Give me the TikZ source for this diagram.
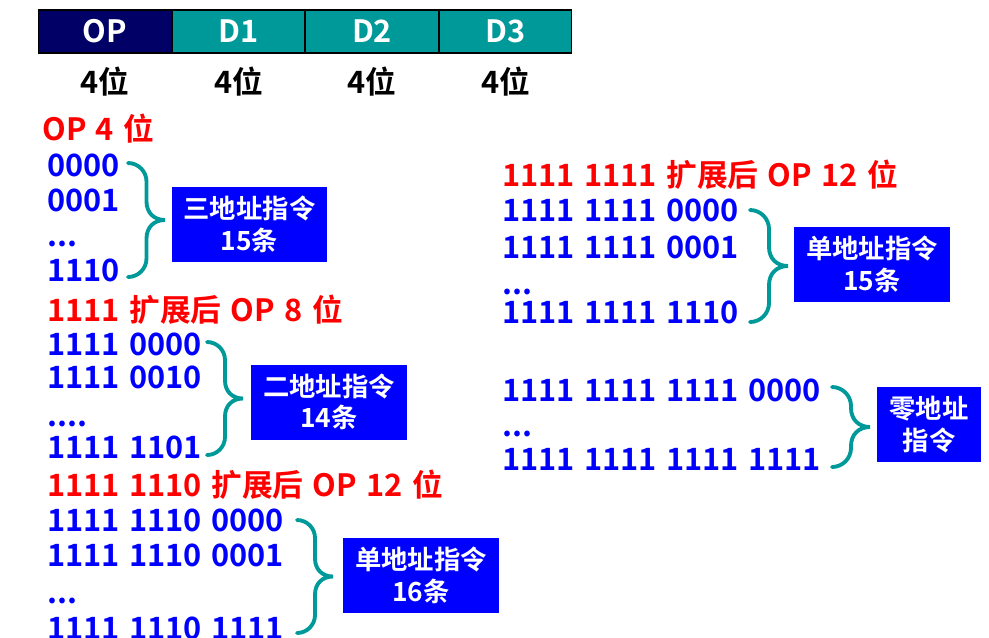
\documentclass[tikz,border=0pt]{standalone}
\usepackage{fontspec}
\setmainfont{Noto Sans CJK SC}[BoldFont={Noto Sans CJK SC Bold}, WordSpace=1.35]
\usetikzlibrary{positioning}

\definecolor{opnavy}{HTML}{000066}
\definecolor{fieldteal}{HTML}{009999}
\definecolor{codeblue}{HTML}{0000FF}
\definecolor{hdred}{HTML}{FF0000}

% curly brace: x, top y, bottom y, width
\newcommand{\codebrace}[4]{%
  \pgfmathsetmacro\brh{#4/2}%
  \pgfmathsetmacro\brm{(#2+#3)/2}%
  \draw[brc] (#1,#2) .. controls ({#1+0.55*\brh},#2) and ({#1+\brh},{#2+0.45*\brh}) .. ({#1+\brh},{#2+\brh})
    -- ({#1+\brh},{\brm-\brh}) .. controls ({#1+\brh},{\brm-0.4*\brh}) and ({#1+#4-0.6*\brh},\brm) .. ({#1+#4},\brm)
    .. controls ({#1+#4-0.6*\brh},\brm) and ({#1+\brh},{\brm+0.4*\brh}) .. ({#1+\brh},{\brm+\brh})
    -- ({#1+\brh},{#3-\brh}) .. controls ({#1+\brh},{#3-0.45*\brh}) and ({#1+0.55*\brh},#3) .. (#1,#3);}

\begin{document}
\begin{tikzpicture}[x=0.02cm, y=-0.02cm, font=\bfseries\fontsize{17.5}{20}\selectfont]
\tikzset{
    field/.style={rectangle, draw=black, line width=0.6pt, minimum width=2.65cm, minimum height=0.86cm, text=white, inner sep=0pt},
    opfield/.style={field, fill=opnavy},
    dfield/.style={field, fill=fieldteal},
    width/.style={inner sep=0pt},
    hdr/.style={anchor=base west, inner sep=0pt, text=hdred},
    code/.style={anchor=base west, inner sep=0pt, text=codeblue},
    tagbox/.style={rectangle, fill=codeblue, text=white, minimum width=3.12cm, minimum height=1.5cm, align=center, inner sep=0pt, font=\bfseries\fontsize{15}{18}\selectfont},
    brc/.style={draw=fieldteal, line width=2.2pt, line cap=round}
}
\useasboundingbox (0,0) rectangle (989,637);

% instruction format
\node[opfield] (op) at (105,31.5) {OP};
\node[dfield, right=0pt of op] (d1) {D1};
\node[dfield, right=0pt of d1] (d2) {D2};
\node[dfield, right=0pt of d2] (d3) {D3};
\node[width, below=0.26cm of op] (w0) {4位};
\node[width, below=0.26cm of d1] (w1) {4位};
\node[width, below=0.26cm of d2] (w2) {4位};
\node[width, below=0.26cm of d3] (w3) {4位};

% three-address
\node[hdr] (hdA) at (42,140) {OP 4 位};
\node[code] (cA1) at (47,176.7) {0000};
\node[code] (cA2) at (47,211.7) {0001};
\node[code] (cA3) at (47,246.7) {...};
\node[code] (cA4) at (47,281.7) {1110};
\codebrace{128}{163}{277}{37}
\node[tagbox] (tagA) at (249.5,224.5) {三地址指令\\15条};

% two-address
\node[hdr] (hdB) at (47,321.7) {1111 扩展后 OP 8 位};
\node[code] (cB1) at (47,355) {1111 0000};
\node[code] (cB2) at (47,388) {1111 0010};
\node[code] (cB3) at (47,426.7) {....};
\node[code] (cB4) at (47,458) {1111 1101};
\codebrace{207}{342}{455}{36}
\node[tagbox] (tagB) at (329,402) {二地址指令\\14条};

% one-address, 16
\node[hdr] (hdC) at (47,496.7) {1111 1110 扩展后 OP 12 位};
\node[code] (cC1) at (47,531.7) {1111 1110 0000};
\node[code] (cC2) at (47,566.7) {1111 1110 0001};
\node[code] (cC3) at (47,603) {...};
\node[code] (cC4) at (47,639) {1111 1110 1111};
\codebrace{297}{520}{633}{36}
\node[tagbox] (tagC) at (421,575.5) {单地址指令\\16条};

% one-address, 15
\node[hdr] (hdD) at (502,186.7) {1111 1111 扩展后 OP 12 位};
\node[code] (cD1) at (502,221.7) {1111 1111 0000};
\node[code] (cD2) at (502,258.3) {1111 1111 0001};
\node[code] (cD3) at (502,294) {...};
\node[code] (cD4) at (502,323) {1111 1111 1110};
\codebrace{750}{210}{322}{38}
\node[tagbox] (tagD) at (872,264.5) {单地址指令\\15条};

% zero-address
\node[code] (cE1) at (502,401.7) {1111 1111 1111 0000};
\node[code] (cE2) at (502,436) {...};
\node[code] (cE3) at (502,470) {1111 1111 1111 1111};
\codebrace{832}{387}{467}{38}
\node[tagbox, minimum width=2.08cm] (tagE) at (929,424.5) {零地址\\指令};
\end{tikzpicture}
\end{document}
